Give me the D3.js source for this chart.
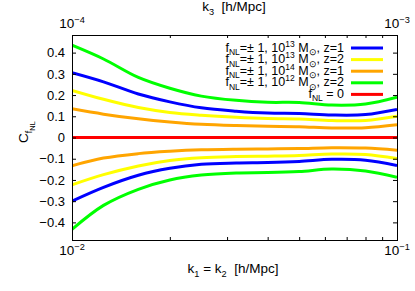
<!DOCTYPE html>
<html>
<head>
<meta charset="utf-8">
<script src="https://cdn.jsdelivr.net/npm/d3@7"></script>
<style>
  body { margin: 0; background: #fff; }
  text { font-family: "Liberation Sans", Arial, sans-serif; fill: #000; }
  .axis path { display: none; }
  .axis line { stroke: #000; }
</style>
</head>
<body>
<script>
const width = 415;
const height = 291;

// k1 = k2 sample points [h/Mpc]
const kVals = [0.01, 0.0125, 0.016, 0.02, 0.025, 0.032, 0.04, 0.05, 0.063, 0.08, 0.1];

// C_fNL for fNL = +1 and fNL = -1
const blueUp = [0.305, 0.262, 0.205, 0.168, 0.140, 0.124, 0.115, 0.113, 0.106, 0.108, 0.132];
const blueDn = [-0.300, -0.235, -0.178, -0.145, -0.126, -0.120, -0.118, -0.113, -0.103, -0.107, -0.132];
const yellowUp = [0.222, 0.180, 0.141, 0.118, 0.105, 0.095, 0.089, 0.087, 0.080, 0.080, 0.100];
const yellowDn = [-0.223, -0.175, -0.134, -0.108, -0.095, -0.090, -0.088, -0.085, -0.078, -0.080, -0.099];
const orangeUp = [0.135, 0.110, 0.088, 0.073, 0.062, 0.056, 0.053, 0.051, 0.045, 0.046, 0.060];
const orangeDn = [-0.133, -0.097, -0.076, -0.065, -0.058, -0.055, -0.054, -0.052, -0.048, -0.050, -0.060];
const greenUp = [0.435, 0.370, 0.283, 0.232, 0.195, 0.175, 0.166, 0.165, 0.153, 0.158, 0.190];
const greenDn = [-0.433, -0.320, -0.244, -0.200, -0.177, -0.167, -0.165, -0.160, -0.149, -0.158, -0.187];
const zeroLine = [0, 0, 0, 0, 0, 0, 0, 0, 0, 0, 0];

const seriesColors = ["#0000ff", "#ffff00", "#ffa500", "#00ff00", "#ff0000"];
const seriesCurves = [
  [blueUp, blueDn],
  [yellowUp, yellowDn],
  [orangeUp, orangeDn],
  [greenUp, greenDn],
  [zeroLine]
];
// legend labels as [text, kind] pieces
const legendLabels = [
  [["f", ""], ["NL", "sub"], ["=± 1, 10", ""], ["13", "sup"], [" M", ""], ["⊙", "sub"], [", z=1", ""]],
  [["f", ""], ["NL", "sub"], ["=± 1, 10", ""], ["13", "sup"], [" M", ""], ["⊙", "sub"], [", z=2", ""]],
  [["f", ""], ["NL", "sub"], ["=± 1, 10", ""], ["14", "sup"], [" M", ""], ["⊙", "sub"], [", z=1", ""]],
  [["f", ""], ["NL", "sub"], ["=± 1, 10", ""], ["12", "sup"], [" M", ""], ["⊙", "sub"], [", z=2", ""]],
  [["f", ""], ["NL", "sub"], [" = 0", ""]]
];

const yTicks = [-0.4, -0.3, -0.2, -0.1, 0, 0.1, 0.2, 0.3, 0.4];
const xMinor = [0.02, 0.03, 0.04, 0.05, 0.06, 0.07, 0.08, 0.09];
const xTopMinor = [2e-4, 3e-4, 4e-4, 5e-4, 6e-4, 7e-4, 8e-4, 9e-4];

const pLeft = 72, pRight = 397, pTop = 35, pBottom = 240;

const x = d3.scaleLog().domain([0.01, 0.1]).range([pLeft, pRight]);
const xTop = d3.scaleLog().domain([1e-4, 1e-3]).range([pLeft, pRight]);
const y = d3.scaleLinear().domain([-0.483, 0.483]).range([pBottom, pTop]);

const svg = d3.select("body").append("svg")
  .attr("width", width)
  .attr("height", height);

// writes sub/superscript text pieces as tspans
function rich(sel, parts, size) {
  let shift = 0;
  const offs = { "": 0, sub: 0.28, sup: -0.4, subsub: 0.5 };
  const sizes = { "": 1, sub: 0.68, sup: 0.68, subsub: 0.55 };
  parts.forEach(p => {
    const target = offs[p[1]] * size;
    sel.append("tspan")
      .attr("dy", target - shift)
      .style("font-size", (sizes[p[1]] * size) + "px")
      .style("white-space", "pre")
      .text(p[0]);
    shift = target;
  });
}

svg.append("defs").append("clipPath").attr("id", "plotClip")
  .append("rect")
  .attr("x", pLeft).attr("y", pTop)
  .attr("width", pRight - pLeft).attr("height", pBottom - pTop);

// curves
const line = d3.line()
  .x((d, i) => x(kVals[i]))
  .y(d => y(d))
  .curve(d3.curveCatmullRom.alpha(0.5));

const plot = svg.append("g").attr("clip-path", "url(#plotClip)");
seriesCurves.forEach((pair, s) => {
  pair.forEach(vals => {
    plot.append("path")
      .datum(vals)
      .attr("fill", "none")
      .attr("stroke", seriesColors[s])
      .attr("stroke-width", 3)
      .attr("d", line);
  });
});

// axes with inward ticks
svg.append("g").attr("class", "axis")
  .attr("transform", `translate(0,${pBottom})`)
  .call(d3.axisBottom(x).tickValues(xMinor).tickSize(-3).tickFormat(""));
svg.append("g").attr("class", "axis")
  .attr("transform", `translate(0,${pTop})`)
  .call(d3.axisTop(xTop).tickValues(xTopMinor).tickSize(-3).tickFormat(""));

svg.append("g").attr("class", "axis")
  .attr("transform", `translate(${pLeft},0)`)
  .call(d3.axisLeft(y).tickValues(yTicks).tickSize(-4).tickPadding(7)
    .tickFormat(d => d === 0 ? "0" : d3.format(".1f")(d)))
  .selectAll("text")
  .style("font-size", "13px")
  .style("font-family", "Liberation Sans, Arial, sans-serif");
svg.append("g").attr("class", "axis")
  .attr("transform", `translate(${pRight},0)`)
  .call(d3.axisRight(y).tickValues(yTicks).tickSize(-4).tickFormat(""));

svg.append("rect")
  .attr("x", pLeft + 0.5).attr("y", pTop + 0.5)
  .attr("width", pRight - pLeft).attr("height", pBottom - pTop)
  .attr("fill", "none")
  .attr("stroke", "#000");

// decade tick labels
const fs = 13.5;
[[x, 0.01, "−2", pBottom + 15], [x, 0.1, "−1", pBottom + 15],
 [xTop, 1e-4, "−4", pTop - 7], [xTop, 1e-3, "−3", pTop - 7]].forEach(t => {
  const tx = svg.append("text")
    .attr("x", t[0](t[1]))
    .attr("y", t[3])
    .attr("text-anchor", "middle")
    .style("font-size", fs + "px");
  rich(tx, [["10", ""], [t[2], "sup"]], fs);
});

// axis titles
const xt = svg.append("text").attr("x", 233).attr("y", 273)
  .attr("text-anchor", "middle").style("font-size", fs + "px");
rich(xt, [["k", ""], ["1", "sub"], [" = k", ""], ["2", "sub"], ["  [h/Mpc]", ""]], fs);

const tt = svg.append("text").attr("x", 234).attr("y", 11)
  .attr("text-anchor", "middle").style("font-size", fs + "px");
rich(tt, [["k", ""], ["3", "sub"], ["  [h/Mpc]", ""]], fs);

const yt = svg.append("text")
  .attr("transform", "translate(28,143) rotate(-90)")
  .style("font-size", fs + "px");
rich(yt, [["C", ""], ["f", "sub"], ["NL", "subsub"]], fs);

// legend
const lfs = 12.5;
legendLabels.forEach((parts, i) => {
  const ly = 48 + i * 11.6;
  const t = svg.append("text")
    .attr("x", 344)
    .attr("y", ly + 3.5)
    .attr("text-anchor", "end")
    .style("font-size", lfs + "px");
  rich(t, parts, lfs);
  svg.append("line")
    .attr("x1", 351).attr("x2", 383)
    .attr("y1", ly).attr("y2", ly)
    .attr("stroke", seriesColors[i])
    .attr("stroke-width", 3);
});
</script>
</body>
</html>
